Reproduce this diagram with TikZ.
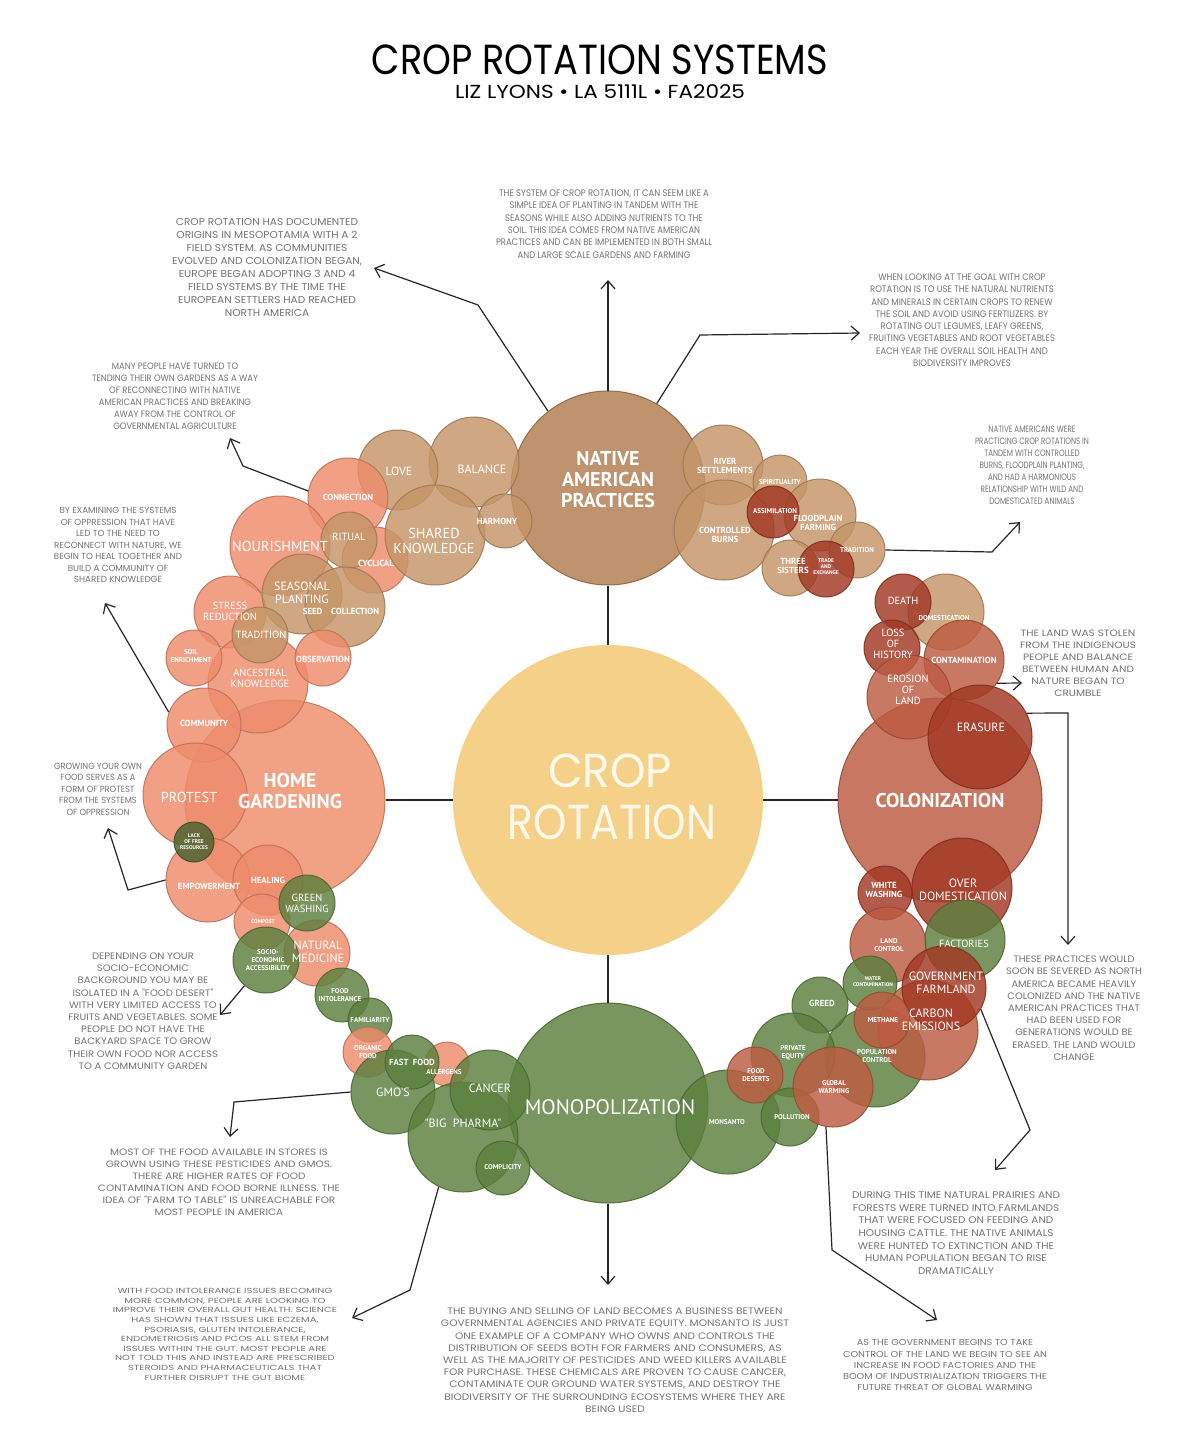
\documentclass[tikz,border=0pt]{standalone}
\usepackage{fontspec}
\usepackage{graphicx}
\usetikzlibrary{arrows.meta}
\newfontfamily\titlefont{Poppins}
\newfontfamily\bodyfont{Poppins}
\newfontfamily\lblfont{PT Sans}
\definecolor{cropY}{RGB}{245,208,136}
\definecolor{napC}{RGB}{176,124,78}
\definecolor{tanC}{RGB}{197,150,104}
\definecolor{salC}{RGB}{238,140,108}
\definecolor{homeC}{RGB}{239,142,107}
\definecolor{rustC}{RGB}{189,92,66}
\definecolor{redC}{RGB}{162,56,36}
\definecolor{colC}{RGB}{188,90,64}
\definecolor{grnC}{RGB}{92,128,62}
\definecolor{dgrnC}{RGB}{72,98,44}
\definecolor{txtC}{RGB}{115,115,115}
\definecolor{creamC}{RGB}{255,249,236}
\tikzset{
 bubble/.style={circle, inner sep=0pt, fill opacity=0.82, draw opacity=0.9, line width=0.5pt},
 lbl/.style={text=white, align=center, inner sep=0pt},
 body/.style={text=txtC, inner sep=0pt},
 lead/.style={line width=0.6pt, draw=black!85},
 arr/.style={lead, -{Straight Barb[length=4pt,width=7pt]}},
}
\newcommand\bub[4]{\node[bubble, fill=#1, draw=#1!80!black, minimum size=#4pt] (#2) at (#3) {};}
\newcommand\lab[4]{\node[lbl, font=#3] (#1) at (#2) {#4};}
\newcommand\tblock[5]{\node[body] (#1) at (#2) {\resizebox*{#3pt}{#4pt}{\bodyfont\fontsize{5}{6.5}\selectfont\begin{tabular}{@{}c@{}}#5\end{tabular}}};}
\newcommand\fXL{\lblfont\bfseries\fontsize{10}{10.5}\selectfont}
\newcommand\fXLr{\lblfont\fontsize{10.5}{11.5}\selectfont}
\newcommand\fL{\lblfont\fontsize{7.2}{7.6}\selectfont}
\newcommand\fM{\lblfont\fontsize{6}{6.4}\selectfont}
\newcommand\fSp{\lblfont\fontsize{5.2}{5.6}\selectfont}
\newcommand\fS{\lblfont\bfseries\fontsize{4.4}{4.8}\selectfont}
\newcommand\fXS{\lblfont\bfseries\fontsize{3.5}{3.9}\selectfont}
\newcommand\fT{\lblfont\bfseries\fontsize{2.7}{3}\selectfont}
\begin{document}
\begin{tikzpicture}[x=0.5pt,y=-0.5pt]
\fill[white] (0,0) rectangle (1198,1433);
\useasboundingbox (0,0) rectangle (1198,1433);

% title
\node[inner sep=0pt] (title) at (600,60) {\resizebox*{228pt}{15pt}{\titlefont CROP ROTATION SYSTEMS}};
\node[inner sep=0pt] (subtitle) at (600,92) {\resizebox*{145pt}{7pt}{\titlefont LIZ LYONS • LA 5111L • FA2025}};

% centre and main bubbles
\node[circle,inner sep=0pt,fill=cropY,minimum size=155pt] (crop) at (608,800) {};
\bub{napC}{nap}{608,488}{97}
\bub{homeC}{home}{285,800}{100}
\bub{colC}{colon}{940,800}{102}
\bub{grnC}{mono}{608,1103}{100}

% native american cluster
\bub{tanC}{balance}{474,462}{45}
\bub{tanC}{love}{398,470}{40}
\bub{salC}{connection}{348,498}{40}
\bub{salC}{nourish}{280,546}{50}
\bub{salC}{cyclical}{375,560}{33}
\bub{tanC}{shared}{435,535}{50}
\bub{tanC}{harmony}{505,521}{27}
\bub{tanC}{ritual}{349,540}{28}
\bub{salC}{stress}{230,612}{36}
\bub{salC}{ancestral}{258,683}{50}
\bub{salC}{soil}{194,658}{28}
\bub{salC}{community}{204,725}{37}
\bub{tanC}{seasonal}{302,594}{40}
\bub{tanC}{seed}{345,607}{40}
\bub{tanC}{tradA}{260,635}{28}
\bub{salC}{observ}{323,658}{28}
\bub{tanC}{river}{723,465}{40}
\bub{tanC}{burns}{724,530}{50}
\bub{tanC}{spirit}{780,482}{27}
\bub{tanC}{flood}{820,515}{36}
\bub{redC}{assim}{773,512}{26}
\bub{tanC}{tradB}{857,550}{28}
\bub{tanC}{sisters}{790,568}{28}
\bub{redC}{trade}{826,569}{28}

% colonization cluster
\bub{tanC}{domest}{946,612}{38}
\bub{redC}{death}{903,602}{28}
\bub{rustC}{contam}{964,660}{40}
\bub{redC}{loss}{892,648}{28}
\bub{rustC}{erosion}{909,697}{42}
\bub{redC}{erasure}{980,737}{52}
\bub{redC}{overdom}{962,888}{50}
\bub{redC}{white}{885,893}{27}
\bub{rustC}{landctrl}{888,945}{38}
\bub{grnC}{factories}{965,940}{40}
\bub{grnC}{popctrl}{875,1057}{50}
\bub{rustC}{carbon}{928,1030}{50}
\bub{redC}{govfarm}{944,988}{42}
\bub{grnC}{watercont}{870,983}{27}
\bub{rustC}{methane}{882,1020}{28}
\bub{grnC}{greed}{820,1005}{28}
\bub{grnC}{monsanto}{728,1122}{52}
\bub{grnC}{privateeq}{793,1055}{42}
\bub{rustC}{fooddes}{755,1075}{28}
\bub{grnC}{pollution}{790,1117}{29}
\bub{rustC}{global}{833,1087}{40}

% home gardening cluster
\bub{salC}{protest}{195,795}{52}
\bub{salC}{empower}{208,880}{42}
\bub{salC}{healing}{268,880}{35}
\bub{salC}{compost}{262,922}{28}
\bub{salC}{natmed}{317,953}{33}
\bub{dgrnC}{lack}{194,842}{20}
\bub{grnC}{greenwash}{307,903}{28}
\bub{grnC}{socio}{266,960}{33}
\bub{grnC}{foodint}{342,995}{27}
\bub{grnC}{familiar}{370,1020}{22}
\bub{salC}{organic}{368,1052}{25}
\bub{salC}{allergens}{447,1064}{22}
\bub{grnC}{gmos}{393,1092}{42}
\bub{grnC}{fastfood}{412,1062}{27}
\bub{grnC}{bigpharma}{463,1137}{55}
\bub{grnC}{cancer}{490,1090}{40}
\bub{grnC}{complicity}{503,1168}{27}

% centre text
\node[inner sep=0pt,text=creamC] (cropA) at (610,771) {\resizebox*{62pt}{17pt}{\titlefont CROP}};
\node[inner sep=0pt,text=creamC] (cropB) at (612,822) {\resizebox*{104pt}{17.5pt}{\titlefont ROTATION}};

% labels
\lab{lNap}{608,480}{\fXL}{NATIVE\\AMERICAN\\PRACTICES}
\lab{lBal}{482,469}{\fM}{BALANCE}
\lab{lLove}{399,471}{\fM}{LOVE}
\lab{lShared}{434,541}{\fL}{SHARED\\KNOWLEDGE}
\lab{lHarm}{497,521}{\fS}{HARMONY}
\lab{lRit}{349,537}{\fSp}{RITUAL}
\lab{lCyc}{376,563}{\fS}{CYCLICAL}
\lab{lSeas}{302,593}{\fM}{SEASONAL\\PLANTING}
\lab{lSeed}{341,611}{\fS}{SEED\quad COLLECTION}
\lab{lTradA}{261,635}{\fSp}{TRADITION}
\lab{lObs}{323,659}{\fS}{OBSERVATION}
\lab{lStress}{230,611}{\fSp}{STRESS\\REDUCTION}
\lab{lSoil}{191,656}{\fXS}{SOIL\\ENRICHMENT}
\lab{lAnc}{260,678}{\fSp}{ANCESTRAL\\KNOWLEDGE}
\lab{lComm}{204,723}{\fS}{COMMUNITY}
\lab{lNour}{280,546}{\fL}{NOURISHMENT}
\lab{lConn}{348,497}{\fS}{CONNECTION}
\lab{lHome}{290,791}{\fXL}{HOME\\GARDENING}
\lab{lProt}{189,797}{\fL}{PROTEST}
\lab{lLack}{194,842}{\fT}{LACK\\OF FREE\\RESOURCES}
\lab{lEmp}{209,886}{\fS}{EMPOWERMENT}
\lab{lHeal}{268,880}{\fS}{HEALING}
\lab{lGw}{307,903}{\fSp}{GREEN\\WASHING}
\lab{lComp}{263,922}{\fT}{COMPOST}
\lab{lNat}{318,952}{\fM}{NATURAL\\MEDICINE}
\lab{lSocio}{268,960}{\fXS}{SOCIO-\\ECONOMIC\\ACCESSIBILITY}
\lab{lFint}{340,995}{\fXS}{FOOD\\INTOLERANCE}
\lab{lFam}{370,1020}{\fXS}{FAMILIARITY}
\lab{lOrg}{368,1052}{\fXS}{ORGANIC\\FOOD}
\lab{lFast}{412,1062}{\fS}{FAST\ \ FOOD}
\lab{lAll}{444,1072}{\fXS}{ALLERGENS}
\lab{lGmo}{393,1092}{\fM}{GMO'S}
\lab{lCanc}{490,1088}{\fM}{CANCER}
\lab{lBig}{463,1123}{\fM}{"BIG\ \ PHARMA"}
\lab{lCompl}{503,1167}{\fXS}{COMPLICITY}
\lab{lMono}{610,1107}{\fXLr}{MONOPOLIZATION}
\lab{lMons}{727,1122}{\fXS}{MONSANTO}
\lab{lPoll}{792,1117}{\fXS}{POLLUTION}
\lab{lPriv}{793,1053}{\fXS}{PRIVATE\\EQUITY}
\lab{lFdes}{756,1075}{\fXS}{FOOD\\DESERTS}
\lab{lGlob}{834,1087}{\fXS}{GLOBAL\\WARMING}
\lab{lGreed}{822,1003}{\fS}{GREED}
\lab{lPop}{877,1056}{\fXS}{POPULATION\\CONTROL}
\lab{lWater}{873,982}{\fT}{WATER\\CONTAMINATION}
\lab{lMeth}{883,1020}{\fXS}{METHANE}
\lab{lCarb}{931,1020}{\fM}{CARBON\\EMISSIONS}
\lab{lGov}{946,983}{\fM}{GOVERNMENT\\FARMLAND}
\lab{lLand}{889,945}{\fXS}{LAND\\CONTROL}
\lab{lFact}{964,944}{\fSp}{FACTORIES}
\lab{lWhite}{884,890}{\fS}{WHITE\\WASHING}
\lab{lOver}{963,890}{\fM}{OVER\\DOMESTICATION}
\lab{lCol}{940,800}{\fXL}{COLONIZATION}
\lab{lEras}{981,727}{\fM}{ERASURE}
\lab{lEros}{908,690}{\fSp}{EROSION\\OF\\LAND}
\lab{lContam}{964,660}{\fS}{CONTAMINATION}
\lab{lLoss}{893,644}{\fSp}{LOSS\\OF\\HISTORY}
\lab{lDom}{944,618}{\fXS}{DOMESTICATION}
\lab{lDeath}{903,601}{\fSp}{DEATH}
\lab{lRiver}{725,466}{\fS}{RIVER\\SETTLEMENTS}
\lab{lBurns}{725,535}{\fS}{CONTROLLED\\BURNS}
\lab{lSpir}{780,482}{\fXS}{SPIRITUALITY}
\lab{lAssim}{775,511}{\fXS}{ASSIMILATION}
\lab{lFlood}{818,523}{\fS}{FLOODPLAIN\\FARMING}
\lab{lTradB}{857,550}{\fXS}{TRADITION}
\lab{lSis}{793,566}{\fS}{THREE\\SISTERS}
\lab{lTrade}{826,567}{\fT}{TRADE\\AND\\EXCHANGE}

% connectors between centre and categories
\draw[lead] (crop) -- (nap);
\draw[lead] (crop) -- (home);
\draw[lead] (crop) -- (colon);
\draw[lead] (crop) -- (mono);

% text blocks
\tblock{t1}{267,268}{95}{52}{CROP ROTATION HAS DOCUMENTED\\ORIGINS IN MESOPOTAMIA WITH A 2\\FIELD SYSTEM. AS COMMUNITIES\\EVOLVED AND COLONIZATION BEGAN,\\EUROPE BEGAN ADOPTING 3 AND 4\\FIELD SYSTEMS BY THE TIME THE\\EUROPEAN SETTLERS HAD REACHED\\NORTH AMERICA}
\tblock{t2}{604,225}{108}{37}{THE SYSTEM OF CROP ROTATION, IT CAN SEEM LIKE A\\SIMPLE IDEA OF PLANTING IN TANDEM WITH THE\\SEASONS WHILE ALSO ADDING NUTRIENTS TO THE\\SOIL. THIS IDEA COMES FROM NATIVE AMERICAN\\PRACTICES AND CAN BE IMPLEMENTED IN BOTH SMALL\\AND LARGE SCALE GARDENS AND FARMING}
\tblock{t3}{962,321}{93}{49}{WHEN LOOKING AT THE GOAL WITH CROP\\ROTATION IS TO USE THE NATURAL NUTRIENTS\\AND MINERALS IN CERTAIN CROPS TO RENEW\\THE SOIL AND AVOID USING FERTILIZERS. BY\\ROTATING OUT LEGUMES, LEAFY GREENS,\\FRUITING VEGETABLES AND ROOT VEGETABLES\\EACH YEAR THE OVERALL SOIL HEALTH AND\\BIODIVERSITY IMPROVES}
\tblock{t4}{1032,466}{57}{42}{NATIVE AMERICANS WERE\\PRACTICING CROP ROTATIONS IN\\TANDEM WITH CONTROLLED\\BURNS, FLOODPLAIN PLANTING,\\AND HAD A HARMONIOUS\\RELATIONSHIP WITH WILD AND\\DOMESTICATED ANIMALS}
\tblock{t5}{1078,664}{58}{36}{THE LAND WAS STOLEN\\FROM THE INDIGENOUS\\PEOPLE AND BALANCE\\BETWEEN HUMAN AND\\NATURE BEGAN TO\\CRUMBLE}
\tblock{t6}{175,397}{83}{36}{MANY PEOPLE HAVE TURNED TO\\TENDING THEIR OWN GARDENS AS A WAY\\OF RECONNECTING WITH NATIVE\\AMERICAN PRACTICES AND BREAKING\\AWAY FROM THE CONTROL OF\\GOVERNMENTAL AGRICULTURE}
\tblock{t7}{118,546}{64}{40}{BY EXAMINING THE SYSTEMS\\OF OPPRESSION THAT HAVE\\LED TO THE NEED TO\\RECONNECT WITH NATURE, WE\\BEGIN TO HEAL TOGETHER AND\\BUILD A COMMUNITY OF\\SHARED KNOWLEDGE}
\tblock{t8}{98,790}{44}{29}{GROWING YOUR OWN\\FOOD SERVES AS A\\FORM OF PROTEST\\FROM THE SYSTEMS\\OF OPPRESSION}
\tblock{t9}{143,1012}{75}{61}{DEPENDING ON YOUR\\SOCIO-ECONOMIC\\BACKGROUND YOU MAY BE\\ISOLATED IN A "FOOD DESERT"\\WITH VERY LIMITED ACCESS TO\\FRUITS AND VEGETABLES. SOME\\PEOPLE DO NOT HAVE THE\\BACKYARD SPACE TO GROW\\THEIR OWN FOOD NOR ACCESS\\TO A COMMUNITY GARDEN}
\tblock{t10}{219,1183}{121}{36}{MOST OF THE FOOD AVAILABLE IN STORES IS\\GROWN USING THESE PESTICIDES AND GMOS.\\THERE ARE HIGHER RATES OF FOOD\\CONTAMINATION AND FOOD BORNE ILLNESS. THE\\IDEA OF "FARM TO TABLE" IS UNREACHABLE FOR\\MOST PEOPLE IN AMERICA}
\tblock{t11}{225,1335}{112}{48}{WITH FOOD INTOLERANCE ISSUES BECOMING\\MORE COMMON, PEOPLE ARE LOOKING TO\\IMPROVE THEIR OVERALL GUT HEALTH. SCIENCE\\HAS SHOWN THAT ISSUES LIKE ECZEMA,\\PSORIASIS, GLUTEN INTOLERANCE,\\ENDOMETRIOSIS AND PCOS ALL STEM FROM\\ISSUES WITHIN THE GUT. MOST PEOPLE ARE\\NOT TOLD THIS AND INSTEAD ARE PRESCRIBED\\STEROIDS AND PHARMACEUTICALS THAT\\FURTHER DISRUPT THE GUT BIOME}
\tblock{t12}{615,1361}{174}{55}{THE BUYING AND SELLING OF LAND BECOMES A BUSINESS BETWEEN\\GOVERNMENTAL AGENCIES AND PRIVATE EQUITY. MONSANTO IS JUST\\ONE EXAMPLE OF A COMPANY WHO OWNS AND CONTROLS THE\\DISTRIBUTION OF SEEDS BOTH FOR FARMERS AND CONSUMERS, AS\\WELL AS THE MAJORITY OF PESTICIDES AND WEED KILLERS AVAILABLE\\FOR PURCHASE. THESE CHEMICALS ARE PROVEN TO CAUSE CANCER,\\CONTAMINATE OUR GROUND WATER SYSTEMS, AND DESTROY THE\\BIODIVERSITY OF THE SURROUNDING ECOSYSTEMS WHERE THEY ARE\\BEING USED}
\tblock{t13}{1074,1009}{68}{55}{THESE PRACTICES WOULD\\SOON BE SEVERED AS NORTH\\AMERICA BECAME HEAVILY\\COLONIZED AND THE NATIVE\\AMERICAN PRACTICES THAT\\HAD BEEN USED FOR\\GENERATIONS WOULD BE\\ERASED. THE LAND WOULD\\CHANGE}
\tblock{t14}{956,1234}{104}{44}{DURING THIS TIME NATURAL PRAIRIES AND\\FORESTS WERE TURNED INTO FARMLANDS\\THAT WERE FOCUSED ON FEEDING AND\\HOUSING CATTLE. THE NATIVE ANIMALS\\WERE HUNTED TO EXTINCTION AND THE\\HUMAN POPULATION BEGAN TO RISE\\DRAMATICALLY}
\tblock{t15}{945,1366}{102}{28}{AS THE GOVERNMENT BEGINS TO TAKE\\CONTROL OF THE LAND WE BEGIN TO SEE AN\\INCREASE IN FOOD FACTORIES AND THE\\BOOM OF INDUSTRIALIZATION TRIGGERS THE\\FUTURE THREAT OF GLOBAL WARMING}

% leader connectors
\coordinate (k1a) at (478,305); \coordinate (k1b) at (374,268);
\draw[arr] (nap.128) -- (k1a) -- (k1b);
\coordinate (k2) at (608,280);
\draw[arr] (nap.north) -- (k2);
\coordinate (k3a) at (700,335); \coordinate (k3b) at (860,333);
\draw[arr] (nap.60) -- (k3a) -- (k3b);
\coordinate (k4a) at (992,552); \coordinate (k4b) at (1020,522);
\draw[arr] (tradB.east) -- (k4a) -- (k4b);
\coordinate (k5) at (1022,683);
\draw[arr] (contam.-35) -- (k5);
\coordinate (k6a) at (1068,713); \coordinate (k6b) at (1068,945);
\draw[arr] (erasure.27) -- (k6a) -- (k6b);
\coordinate (k7a) at (1030,1130); \coordinate (k7b) at (995,1170);
\draw[arr] (govfarm.-30) -- (k7a) -- (k7b);
\coordinate (k8a) at (832,1250); \coordinate (k8b) at (937,1320);
\draw[arr] (global.-100) -- (k8a) -- (k8b);
\coordinate (k9) at (608,1285);
\draw[arr] (mono.south) -- (k9);
\coordinate (k10a) at (410,1290); \coordinate (k10b) at (352,1318);
\draw[arr] (bigpharma.-116) -- (k10a) -- (k10b);
\coordinate (k11a) at (234,1102); \coordinate (k11b) at (230,1137);
\draw[arr] (gmos.west) -- (k11a) -- (k11b);
\coordinate (k12) at (220,1015);
\draw[arr] (socio.-130) -- (k12);
\coordinate (k13a) at (128,890); \coordinate (k13b) at (108,828);
\draw[arr] (empower.west) -- (k13a) -- (k13b);
\coordinate (k14) at (105,603);
\draw[arr] (community.160) -- (k14);
\coordinate (k15a) at (243,466); \coordinate (k15b) at (230,438);
\draw[arr] (connection.170) -- (k15a) -- (k15b);
\end{tikzpicture}
\end{document}
